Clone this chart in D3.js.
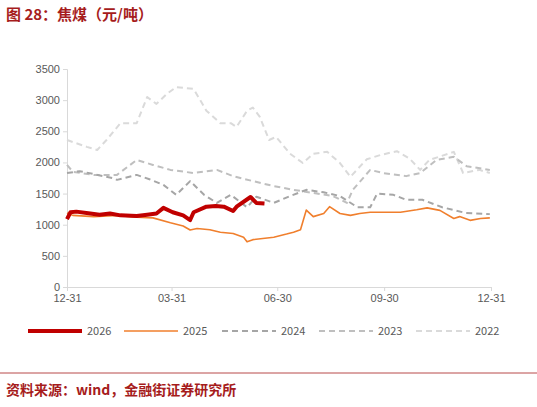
<!DOCTYPE html>
<html><head><meta charset="utf-8">
<script src="https://cdn.jsdelivr.net/npm/d3@7"></script>
<style>body{margin:0;background:#fff;font-family:"Noto Sans CJK SC","Noto Sans",sans-serif}</style>
</head><body><svg id="c" width="537" height="407"></svg>
<script>
// [day of year, value]
const s2026 = [[0,1090],[3,1200],[8,1210],[20,1180],[28,1160],[37,1180],[46,1150],[60,1140],[69,1160],[77,1180],[83,1270],[91,1200],[100,1150],[106,1075],[109,1200],[120,1290],[128,1300],[135,1290],[143,1220],[146,1290],[158,1445],[163,1350],[170,1340]];
const s2025 = [[0,1190],[5,1150],[23,1130],[43,1150],[60,1120],[74,1110],[89,1030],[100,980],[106,915],[112,940],[123,920],[132,880],[143,860],[152,800],[155,725],[160,760],[178,800],[189,850],[195,880],[201,920],[206,1235],[212,1130],[221,1180],[226,1290],[235,1180],[244,1150],[252,1180],[261,1200],[272,1200],[287,1200],[301,1240],[310,1270],[321,1230],[333,1100],[338,1130],[347,1070],[356,1100],[364,1110]];
const s2024 = [[0,1830],[11,1860],[39,1750],[43,1720],[60,1800],[71,1730],[83,1640],[94,1480],[106,1700],[118,1480],[129,1350],[141,1480],[155,1280],[163,1450],[178,1350],[192,1460],[206,1560],[221,1520],[235,1460],[250,1280],[261,1280],[267,1500],[281,1480],[292,1400],[306,1400],[323,1280],[343,1190],[364,1170]];
const s2023 = [[0,1960],[5,1850],[23,1800],[43,1800],[60,2040],[74,1960],[89,1880],[109,1830],[129,1880],[143,1780],[160,1700],[178,1620],[195,1560],[212,1510],[229,1460],[241,1350],[246,1560],[261,1880],[272,1830],[292,1780],[304,1830],[318,2040],[333,2090],[344,1940],[364,1880]];
const s2022 = [[0,2360],[17,2250],[26,2200],[34,2360],[46,2630],[60,2630],[69,3050],[77,2940],[86,3100],[94,3210],[109,3180],[120,2830],[132,2630],[141,2630],[146,2570],[155,2830],[160,2880],[166,2730],[174,2360],[180,2410],[192,2140],[203,1990],[212,2140],[224,2170],[235,1990],[244,1770],[258,2050],[270,2120],[284,2180],[295,2060],[304,1880],[312,2040],[333,2170],[341,1830],[355,1880],[364,1830]];
const xTicks = [0, 90, 181, 273, 365];
const xLabels = ["12-31", "03-31", "06-30", "09-30", "12-31"];
const yTicks = d3.range(0, 3501, 500);

const svg = d3.select("#c");
const x = d3.scaleLinear().domain([0, 365]).range([67, 491]);
const y = d3.scaleLinear().domain([0, 3500]).range([287, 69]);

svg.append("text").attr("x", 6).attr("y", 20).attr("fill", "#a61c1c")
  .attr("font-size", 15).attr("font-weight", "bold").text("图 28：焦煤（元/吨）");

const ax = svg.append("g").attr("transform", "translate(0,287)")
  .call(d3.axisBottom(x).tickValues(xTicks).tickFormat((d, i) => xLabels[i]).tickSize(4));
ax.selectAll("text").attr("fill", "#595959").attr("font-size", 11);
ax.selectAll("line,path").attr("stroke", "#d9d9d9");
const ay = svg.append("g").attr("transform", "translate(67,0)")
  .call(d3.axisLeft(y).tickValues(yTicks).tickFormat(d3.format("d")).tickSize(4));
ay.selectAll("text").attr("fill", "#595959").attr("font-size", 11);
ay.selectAll("line,path").attr("stroke", "#d9d9d9");

const line = d3.line().x(d => x(d[0])).y(d => y(d[1]));
const series = [
  {name: "2022", data: s2022, color: "#dadada", w: 2, dash: "6,4"},
  {name: "2023", data: s2023, color: "#bfbfbf", w: 2, dash: "6,4"},
  {name: "2024", data: s2024, color: "#a6a6a6", w: 2, dash: "6,4"},
  {name: "2025", data: s2025, color: "#f07f2d", w: 1.6, dash: null},
  {name: "2026", data: s2026, color: "#c00000", w: 4, dash: null}
];
series.forEach(s => svg.append("path").datum(s.data).attr("d", line)
  .attr("fill", "none").attr("stroke", s.color).attr("stroke-width", s.w)
  .attr("stroke-dasharray", s.dash).attr("stroke-linejoin", "round"));

const legendX = [28, 124, 222, 319, 416];
series.slice().reverse().forEach((s, i) => {
  const g = svg.append("g").attr("transform", `translate(${legendX[i]},331)`);
  g.append("line").attr("x1", 0).attr("x2", 54).attr("stroke", s.color)
    .attr("stroke-width", s.w).attr("stroke-dasharray", s.dash);
  g.append("text").attr("x", 59).attr("y", 4).attr("font-size", 11).attr("fill", "#595959").text(s.name);
});

svg.append("line").attr("x1", 0).attr("x2", 537).attr("y1", 373).attr("y2", 373).attr("stroke", "#a61c1c").attr("stroke-width", 0.8);
svg.append("text").attr("x", 6).attr("y", 395).attr("fill", "#a61c1c")
  .attr("font-size", 14).attr("font-weight", "bold").text("资料来源：wind，金融街证券研究所");
</script></body></html>
